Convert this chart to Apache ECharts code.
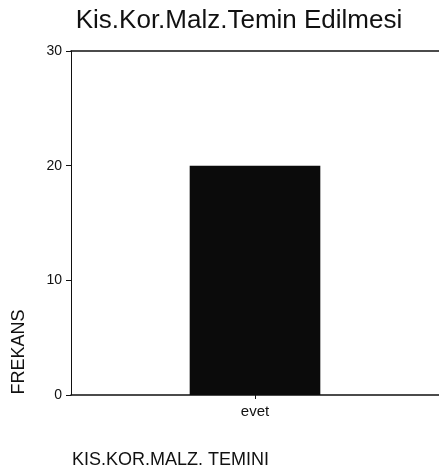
<!DOCTYPE html>
<html><head><meta charset="utf-8">
<script src="https://cdn.jsdelivr.net/npm/echarts@6/dist/echarts.min.js"></script>
<style>html,body{margin:0;padding:0;background:#fff}#c{width:439px;height:472px}</style>
</head><body><div id="c"></div>
<script>
const titleText = "Kis.Kor.Malz.Temin Edilmesi";
const categories = ["evet"];
const frekans = [20];
const yTicks = [0, 10, 20, 30];
const yAxisTitle = "FREKANS";
const xAxisTitle = "KIS.KOR.MALZ. TEMINI";

const chart = echarts.init(document.getElementById('c'), null, {renderer: 'canvas'});
const font = "Liberation Sans, Arial, sans-serif";
chart.setOption({
  animation: false,
  backgroundColor: '#fff',
  title: [
    {text: titleText, left: 234, top: 3, textAlign: 'center',
     textStyle: {fontFamily: font, fontSize: 26, fontWeight: 'normal', color: '#111'}},
    {text: xAxisTitle, left: 67, top: 446,
     textStyle: {fontFamily: font, fontSize: 18, fontWeight: 'normal', color: '#111'}}
  ],
  graphic: [{
    type: 'text', x: 10, y: 352, rotation: Math.PI / 2,
    style: {text: yAxisTitle, font: '18px ' + font, fill: '#111', textAlign: 'center', textVerticalAlign: 'top'}
  }],
  grid: {left: 71, top: 51, right: -2, bottom: 77, containLabel: false},
  xAxis: [{
    type: 'category', data: categories, position: 'bottom',
    axisLine: {lineStyle: {color: '#111', width: 1.5}},
    axisTick: {show: true, alignWithLabel: true, length: 4, lineStyle: {color: '#111'}},
    axisLabel: {fontFamily: font, fontSize: 15, color: '#111', margin: 9}
  }, {
    type: 'category', data: categories, position: 'top',
    axisLine: {lineStyle: {color: '#111', width: 1.5}},
    axisTick: {show: false}, axisLabel: {show: false}
  }],
  yAxis: {
    type: 'value', min: yTicks[0], max: yTicks[yTicks.length - 1], interval: 10,
    axisLine: {show: true, lineStyle: {color: '#111', width: 1}},
    axisTick: {show: true, length: 5, lineStyle: {color: '#111'}},
    axisLabel: {fontFamily: font, fontSize: 14, color: '#111', margin: 9},
    splitLine: {show: false}
  },
  series: [{
    type: 'bar', data: frekans, barWidth: '35.5%',
    itemStyle: {color: '#0b0b0b'}
  }]
});
</script></body></html>
